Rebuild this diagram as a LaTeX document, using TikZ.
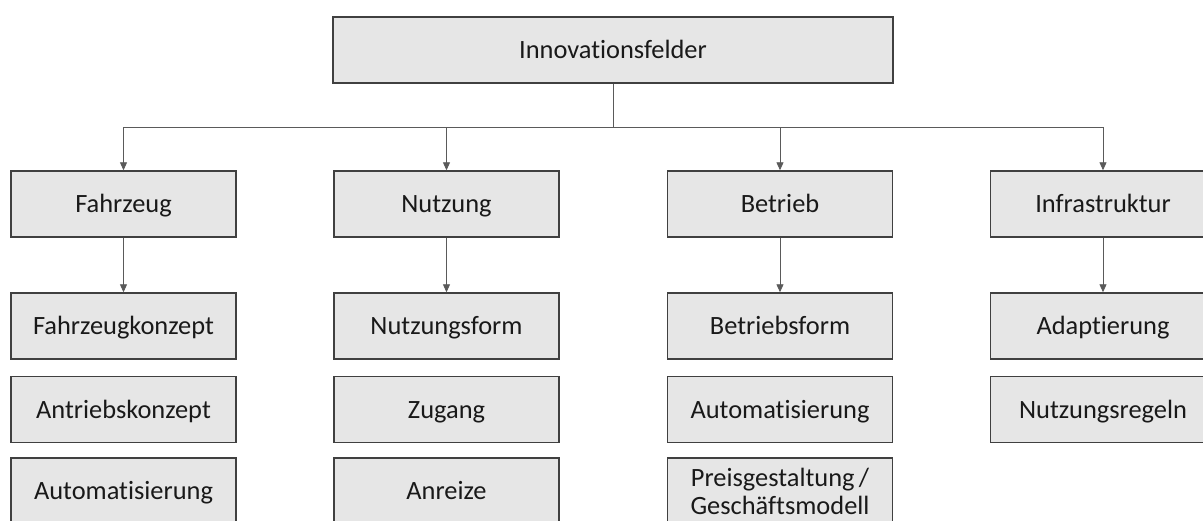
\documentclass[tikz,border=0pt]{standalone}
\usepackage{fontspec}
\setmainfont{Carlito}[Ligatures=NoCommon]
\usetikzlibrary{arrows.meta}

\definecolor{boxfill}{HTML}{E6E6E6}
\definecolor{boxline}{HTML}{404040}
\definecolor{linkline}{HTML}{5A5A5A}

\begin{document}
\begin{tikzpicture}[x=1pt, y=-1pt,
    fieldbox/.style={draw=boxline, fill=boxfill, line width=1.4pt, minimum width=225pt, minimum height=66pt,
        inner sep=0pt, align=center, text=black!90, text height=17.5pt, text depth=0pt,
        font=\fontsize{26.4}{28}\selectfont},
    link/.style={draw=linkline, line width=0.9pt},
    linkarrow/.style={link, -{Triangle[width=7pt, length=8pt]}}]

    % ---- Notes ----
    % coordinates in px of the original picture, y pointing down

    \useasboundingbox (0,0) rectangle (1203,521);

    % Constants
    \pgfmathsetmacro{\xa}{123.5}
    \pgfmathsetmacro{\xb}{446.5}
    \pgfmathsetmacro{\xc}{780}
    \pgfmathsetmacro{\xd}{1103}
    \pgfmathsetmacro{\ybus}{127}
    \pgfmathsetmacro{\yone}{204}
    \pgfmathsetmacro{\ytwo}{326}
    \pgfmathsetmacro{\ythree}{409.5}
    \pgfmathsetmacro{\yfour}{491}

    % Root
    \node [fieldbox, minimum width=560pt] (innovation) at (613, 50) {Innovationsfelder};

    % Fields
    \node [fieldbox] (fahrzeug) at (\xa, \yone) {Fahrzeug};
    \node [fieldbox] (nutzung) at (\xb, \yone) {Nutzung};
    \node [fieldbox] (betrieb) at (\xc, \yone) {Betrieb};
    \node [fieldbox] (infrastruktur) at (\xd, \yone) {Infrastruktur};

    % Topics of each field
    \node [fieldbox] (fahrzeugkonzept) at (\xa, \ytwo) {Fahrzeugkonzept};
    \node [fieldbox] (antriebskonzept) at (\xa, \ythree) {Antriebskonzept};
    \node [fieldbox] (automatisierungA) at (\xa, \yfour) {Automatisierung};

    \node [fieldbox] (nutzungsform) at (\xb, \ytwo) {Nutzungsform};
    \node [fieldbox] (zugang) at (\xb, \ythree) {Zugang};
    \node [fieldbox] (anreize) at (\xb, \yfour) {Anreize};

    \node [fieldbox] (betriebsform) at (\xc, \ytwo) {Betriebsform};
    \node [fieldbox] (automatisierungB) at (\xc, \ythree) {Automatisierung};
    \node [fieldbox, text height=, text depth=] (preis) at (\xc, \yfour) {Preisgestaltung\,/\\Geschäftsmodell};

    \node [fieldbox] (adaptierung) at (\xd, \ytwo) {Adaptierung};
    \node [fieldbox] (regeln) at (\xd, \ythree) {Nutzungsregeln};

    % Bus below the root
    \coordinate (bus) at (613, \ybus);
    \draw [link] (innovation.south) -- (bus);

    \draw [linkarrow] (bus) -| (fahrzeug.north);
    \draw [linkarrow] (bus) -| (nutzung.north);
    \draw [linkarrow] (bus) -| (betrieb.north);
    \draw [linkarrow] (bus) -| (infrastruktur.north);

    % field -> first topic
    \draw [linkarrow] (fahrzeug) -- (fahrzeugkonzept);
    \draw [linkarrow] (nutzung) -- (nutzungsform);
    \draw [linkarrow] (betrieb) -- (betriebsform);
    \draw [linkarrow] (infrastruktur) -- (adaptierung);

\end{tikzpicture}
\end{document}
